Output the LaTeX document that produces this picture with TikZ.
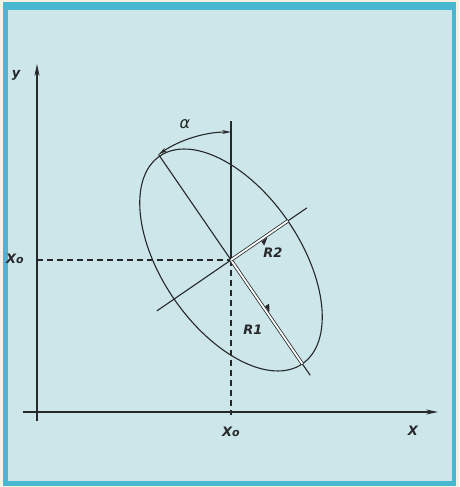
\documentclass[tikz,border=0pt]{standalone}
\usepackage{fontspec}
\newfontfamily\lab{DejaVu Sans}
\usetikzlibrary{arrows.meta,calc}
\definecolor{paper}{RGB}{246,242,226}
\definecolor{rim}{RGB}{72,184,210}
\definecolor{bg}{RGB}{204,230,233}
\definecolor{ink}{RGB}{38,40,42}
\tikzset{
  ln/.style={draw=ink, line width=1.1pt},
  dsh/.style={draw=ink, line width=1.2pt, dash pattern=on 6pt off 4pt},
  dbl/.style={draw=ink, line width=0.8pt, double=white, double distance=1.8pt},
  tip/.style={-{Stealth[length=12pt,width=5pt]}},
  lbl/.style={font=\lab\itshape\bfseries\fontsize{13}{13}\selectfont, text=ink, inner sep=0pt}
}
\begin{document}
\begin{tikzpicture}[x=1pt,y=1pt]
\useasboundingbox (0,0) rectangle (459,487);
\fill[paper] (0,0) rectangle (459,487);
\fill[rim] (3,1) rectangle (456,485);
\fill[bg] (8,6) rectangle (452,477);
% key points (y up, Y = 487 - screen y)
\coordinate (C) at (231,227);
\coordinate (u) at (0.566,-0.824);
\coordinate (v) at (0.824,0.566);
\coordinate (ybot) at (37,66);
\coordinate (ytop) at (37,423);
\coordinate (xleft) at (23,75);
\coordinate (xright) at (438,75);
\coordinate (vtop) at (231,366);
\coordinate (vbot) at (231,72);
\coordinate (hleft) at (37,227);
\coordinate (Mup) at ($(C)-128*(u)$);
\coordinate (Mdn) at ($(C)+140*(u)$);
\coordinate (mlo) at ($(C)-90*(v)$);
\coordinate (mhi) at ($(C)+92*(v)$);
\coordinate (R1e) at ($(C)+126*(u)$);
\coordinate (R2e) at ($(C)+69*(v)$);
% axes
\draw[ln,tip] (ybot) -- (ytop);
\draw[ln,tip] (xleft) -- (xright);
% guides
\draw[dsh] (hleft) -- (C);
\draw[dsh] (C) -- (vbot);
\draw[ln] (C) -- (vtop);
% ellipse
\draw[ln, rotate around={-55.5:(C)}] (C) ellipse [x radius=126, y radius=69];
% axes of ellipse
\draw[ln] (Mup) -- (Mdn);
\draw[ln] (mlo) -- (mhi);
% radii (double lines)
\draw[dbl] (C) -- (R1e);
\draw[dbl] (C) -- (R2e);
% notches
\coordinate (n1) at ($(C)+58*(u)+2*(v)$);
\draw[ln,line width=0.9pt,fill=ink] (n1) -- ++($4*(v)$) -- ($(n1)+6*(u)$);
\coordinate (n2) at ($(C)+36*(v)+2*(u)$);
\draw[ln,line width=0.9pt,fill=ink] (n2) -- ++($4*(u)$) -- ($(n2)+6*(v)$);
% alpha arc
\draw[ln,{Stealth[length=9pt,width=4pt]}-{Stealth[length=9pt,width=4pt]}] ($(C)+(124.5:128)$) arc[start angle=124.5, end angle=90, radius=128];
% labels
\node[lbl] (ly) at (16,412) {y};
\node[lbl] (lx0a) at (15,228) {X{\fontsize{11}{11}\selectfont o}};
\node[lbl] (lx0b) at (231,55) {X{\fontsize{11}{11}\selectfont o}};
\node[lbl] (lX) at (413,56) {X};
\node[lbl, font=\lab\itshape\fontsize{16}{16}\selectfont] (la) at (185,363) {α};
\node[lbl] (lR2) at (273,234) {R2};
\node[lbl] (lR1) at (253,157) {R1};
\end{tikzpicture}
\end{document}
